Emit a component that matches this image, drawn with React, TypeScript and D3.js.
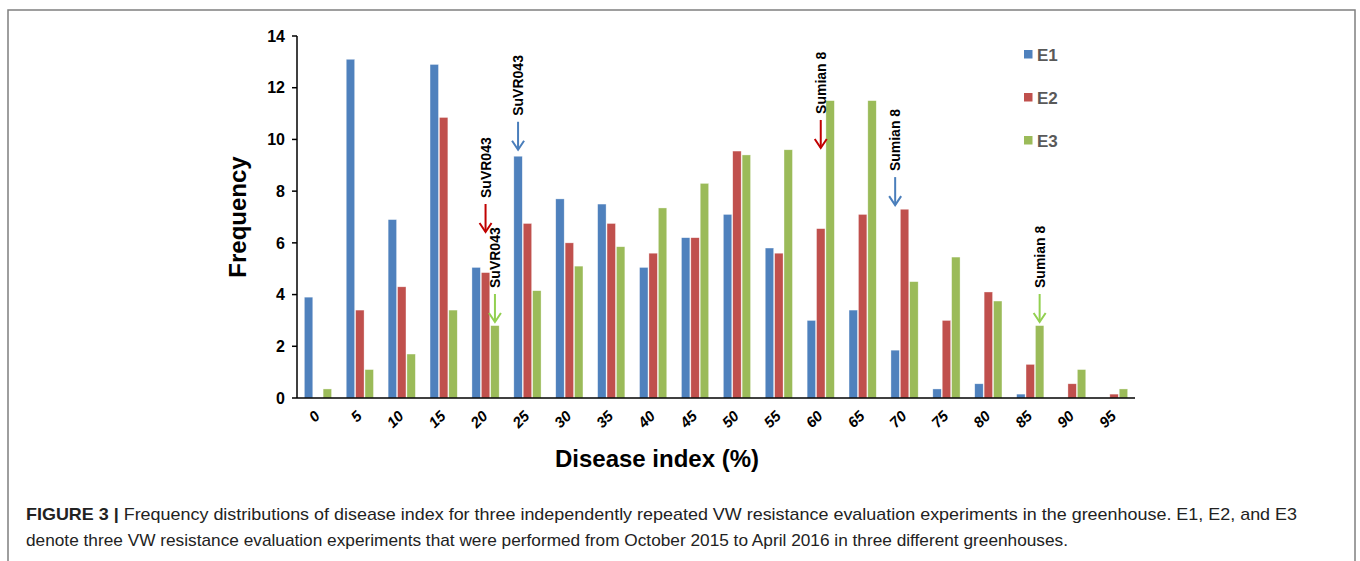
import React from 'react';
import * as d3 from 'd3';

const categories = ['0', '5', '10', '15', '20', '25', '30', '35', '40', '45', '50', '55', '60', '65', '70', '75', '80', '85', '90', '95'];
const seriesNames = ['E1', 'E2', 'E3'];
const e1 = [3.9, 13.1, 6.9, 12.9, 5.05, 9.35, 7.7, 7.5, 5.05, 6.2, 7.1, 5.8, 3.0, 3.4, 1.85, 0.35, 0.55, 0.15, 0, 0];
const e2 = [0, 3.4, 4.3, 10.85, 4.85, 6.75, 6.0, 6.75, 5.6, 6.2, 9.55, 5.6, 6.55, 7.1, 7.3, 3.0, 4.1, 1.3, 0.55, 0.15];
const e3 = [0.35, 1.1, 1.7, 3.4, 2.8, 4.15, 5.1, 5.85, 7.35, 8.3, 9.4, 9.6, 11.5, 11.5, 4.5, 5.45, 3.75, 2.8, 1.1, 0.35];
const yTicks = [0, 2, 4, 6, 8, 10, 12, 14];

// cultivar markers: label, category, series, value where the arrow tip sits
const markers = [
  { label: 'SuVR043', cat: '25', series: 'E1', tip: 9.6, color: '#4a7ebb' },
  { label: 'SuVR043', cat: '20', series: 'E2', tip: 6.42, color: '#c00000' },
  { label: 'SuVR043', cat: '20', series: 'E3', tip: 2.94, color: '#92d050' },
  { label: 'Sumian 8', cat: '60', series: 'E2', tip: 9.67, color: '#c00000' },
  { label: 'Sumian 8', cat: '70', series: 'E1', tip: 7.46, color: '#4a7ebb' },
  { label: 'Sumian 8', cat: '85', series: 'E3', tip: 2.94, color: '#92d050' },
];

const colors: Record<string, string> = { E1: '#4f81bd', E2: '#c0504d', E3: '#9bbb59' };
const seriesData: Record<string, number[]> = { E1: e1, E2: e2, E3: e3 };

export default function App() {
  const left = 297, right = 1135, top = 36, bottom = 398;

  const x0 = d3.scaleBand().domain(categories).range([left, right]).paddingInner(0.35).paddingOuter(0.175);
  const x1 = d3.scaleBand().domain(seriesNames).range([0, x0.bandwidth()]).paddingInner(0.1);
  const y = d3.scaleLinear().domain([0, 14]).range([bottom, top]);

  const font = 'Liberation Sans, Arial, sans-serif';

  return (
    <svg width={1360} height={561} style={{ position: 'absolute', left: 0, top: 0, background: '#fff' }} fontFamily={font}>
      <rect x={8} y={10} width={1347} height={600} fill="none" stroke="#7f7f7f" strokeWidth={1.5} />

      {/* bars */}
      {categories.map((c, i) => (
        <g key={c} transform={`translate(${x0(c)},0)`}>
          {seriesNames.map(s => {
            const v = seriesData[s][i];
            if (v <= 0) return null;
            return (
              <rect key={s} x={x1(s)} y={y(v)} width={x1.bandwidth()} height={y(0) - y(v)}
                fill={colors[s]} stroke="#ffffff" strokeOpacity={0.6} strokeWidth={0.6} />
            );
          })}
        </g>
      ))}

      {/* y axis */}
      <line x1={left} x2={left} y1={top} y2={bottom} stroke="#000" strokeWidth={1.5} />
      {yTicks.map(t => (
        <g key={t}>
          <line x1={left - 5} x2={left} y1={y(t)} y2={y(t)} stroke="#000" strokeWidth={1.5} />
          <text x={left - 12} y={y(t)} dy="0.36em" textAnchor="end" fontSize={16} fontWeight="bold">{t}</text>
        </g>
      ))}
      <text transform={`translate(246,${(top + bottom) / 2}) rotate(-90)`} textAnchor="middle" fontSize={24} fontWeight="bold">Frequency</text>

      {/* x axis */}
      <line x1={left} x2={right} y1={bottom} y2={bottom} stroke="#000" strokeWidth={1.5} />
      {categories.map(c => (
        <text key={c} transform={`translate(${(x0(c) as number) + x0.bandwidth() / 2 + 3},${bottom + 19}) rotate(-45)`}
          textAnchor="end" fontSize={15} fontWeight="bold" fontStyle="italic">{c}</text>
      ))}
      <text x={657} y={467} textAnchor="middle" fontSize={24} fontWeight="bold">Disease index (%)</text>

      {/* markers */}
      {markers.map((m, i) => {
        const cx = (x0(m.cat) as number) + (x1(m.series) as number) + x1.bandwidth() / 2;
        const tipY = y(m.tip);
        const tailY = tipY - 28;
        return (
          <g key={i}>
            <line x1={cx} x2={cx} y1={tailY} y2={tipY} stroke={m.color} strokeWidth={2} />
            <polyline points={`${cx - 6},${tipY - 9} ${cx},${tipY} ${cx + 6},${tipY - 9}`} fill="none" stroke={m.color} strokeWidth={2} />
            <text transform={`translate(${cx + 5},${tailY - 6}) rotate(-90)`} textAnchor="start" fontSize={14} fontWeight="bold">{m.label}</text>
          </g>
        );
      })}

      {/* legend */}
      {seriesNames.map((s, i) => (
        <g key={s} transform={`translate(1024,${50 + i * 43})`}>
          <rect x={0} y={0} width={8.5} height={8.5} fill={colors[s]} />
          <text x={13} y={4.5} dy="0.36em" fontSize={17} fontWeight="bold" fill="#595959">{s}</text>
        </g>
      ))}

      {/* caption */}
      <text x={26} y={520} fontSize={17} fill="#222" textLength={1271} lengthAdjust="spacingAndGlyphs">
        <tspan fontWeight="bold">FIGURE 3 | </tspan>
        <tspan>Frequency distributions of disease index for three independently repeated VW resistance evaluation experiments in the greenhouse. E1, E2, and E3</tspan>
      </text>
      <text x={26} y={546} fontSize={17} fill="#222" textLength={1042} lengthAdjust="spacingAndGlyphs">denote three VW resistance evaluation experiments that were performed from October 2015 to April 2016 in three different greenhouses.</text>
    </svg>
  );
}
